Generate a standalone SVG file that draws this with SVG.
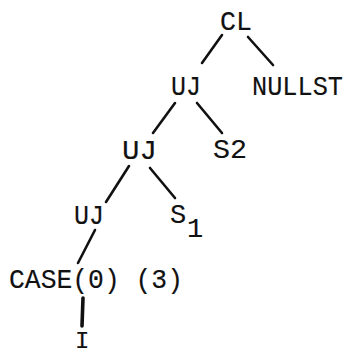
<svg xmlns="http://www.w3.org/2000/svg" width="349" height="355" viewBox="0 0 349 355">
<style>
text{font-family:"Liberation Mono","DejaVu Sans Mono",monospace;font-size:27px;fill:#111;stroke:#111;stroke-width:0.15}
.e{stroke:#111;stroke-width:2.6;stroke-linecap:round;fill:none}
</style>
<rect width="349" height="355" fill="#fff"/>
<g id="connectors">
<line class="e" x1="222" y1="35" x2="202" y2="63"/>
<line class="e" x1="248" y1="37" x2="273" y2="65"/>
<line class="e" x1="175" y1="103" x2="153" y2="133"/>
<line class="e" x1="197" y1="103" x2="222" y2="133"/>
<line class="e" x1="129" y1="166" x2="106" y2="202"/>
<line class="e" x1="150" y1="168" x2="175" y2="198"/>
<line class="e" x1="95" y1="230" x2="78" y2="263"/>
<line class="e" x1="83" y1="298" x2="82" y2="326" style="stroke-width:3.6"/>
</g>
<g id="n-cl"><text x="220" y="30" textLength="32" lengthAdjust="spacingAndGlyphs">CL</text></g>
<g id="n-nullst"><text x="252" y="95" textLength="91" lengthAdjust="spacingAndGlyphs">NULLST</text></g>
<g id="n-uj1"><text x="171" y="95" textLength="30" lengthAdjust="spacingAndGlyphs">UJ</text></g>
<g id="n-s2"><text x="213" y="158" textLength="34" lengthAdjust="spacingAndGlyphs">S2</text></g>
<g id="n-uj2"><text x="122" y="159" textLength="35" lengthAdjust="spacingAndGlyphs">UJ</text></g>
<g id="n-s1"><text x="170" y="223">S<tspan x="187" y="237">1</tspan></text></g>
<g id="n-uj3"><text x="74" y="224" textLength="30" lengthAdjust="spacingAndGlyphs">UJ</text></g>
<g id="n-case"><text x="9" y="288" textLength="174" lengthAdjust="spacingAndGlyphs">CASE(0) (3)</text></g>
<g id="n-i"><text x="75" y="348" style="font-size:24px">I</text></g>
</svg>
